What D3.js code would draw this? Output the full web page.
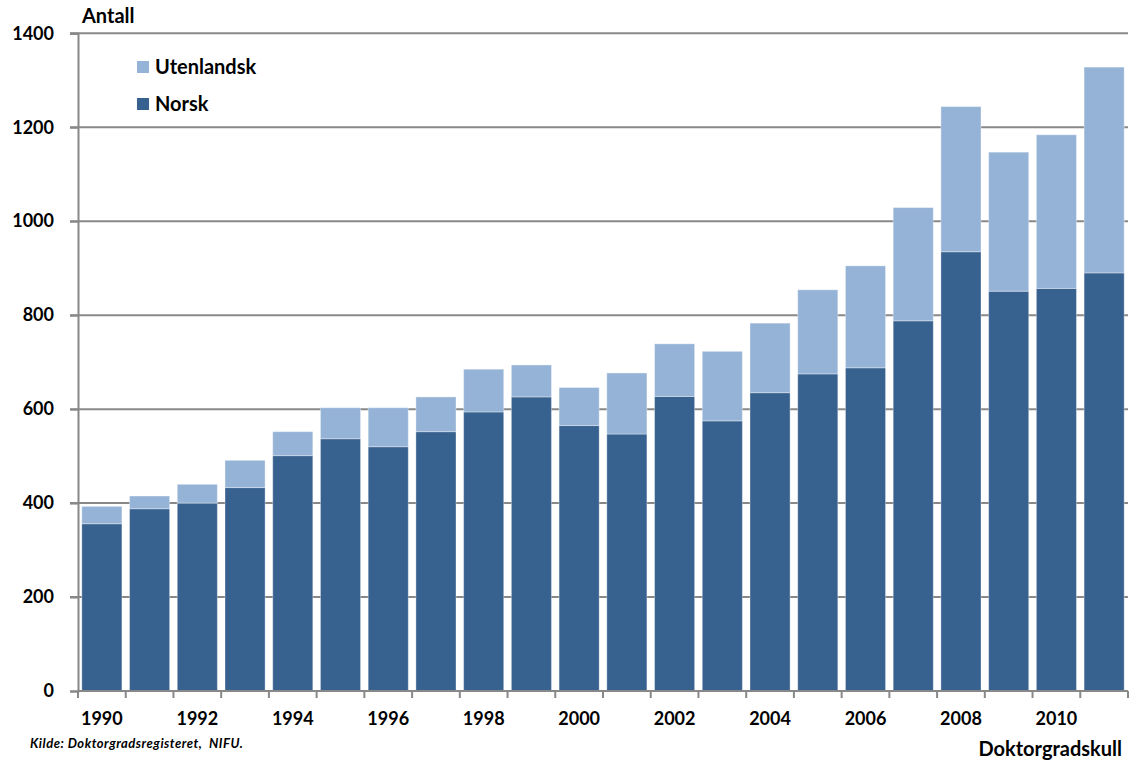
<!DOCTYPE html>
<html><head><meta charset="utf-8">
<script src="https://cdn.jsdelivr.net/npm/d3@7/dist/d3.min.js"></script>
<style>body{margin:0;background:#fff}svg{display:block}text{font-family:Lato,"Open Sans",sans-serif;font-weight:bold;fill:#000}</style>
</head><body><svg id="c" width="1129" height="760"></svg>
<script>
const years = [1990,1991,1992,1993,1994,1995,1996,1997,1998,1999,2000,2001,2002,2003,2004,2005,2006,2007,2008,2009,2010,2011];
const norsk = [356,388,400,433,501,537,520,552,594,626,565,547,627,575,635,675,688,788,935,851,857,890];
const utenlandsk = [37,27,40,58,51,66,83,74,91,68,81,130,112,148,148,179,217,241,309,296,327,438];
const yTicks = [0,200,400,600,800,1000,1200,1400];
const seriesNames = ["Norsk","Utenlandsk"];
const colors = {Norsk:"#37618f", Utenlandsk:"#95b3d7"};

const svg = d3.select("#c");
const L=78, R=1128, T=33.3, B=691;
const x = d3.scaleBand().domain(years).range([L,R]).paddingInner(0.16).paddingOuter(0.08);
const y = d3.scaleLinear().domain([0,1400]).range([B,T]);

// gridlines
svg.append("g").selectAll("line").data(yTicks.filter(d=>d>0)).join("line")
  .attr("x1",L-8).attr("x2",R).attr("y1",d=>y(d)).attr("y2",d=>y(d))
  .attr("stroke","#888").attr("stroke-width",2);

const table = years.map((yr,i)=>({year:yr, Norsk:norsk[i], Utenlandsk:utenlandsk[i]}));
const stack = d3.stack().keys(seriesNames)(table);
svg.append("g").selectAll("g").data(stack).join("g")
  .attr("fill",d=>colors[d.key])
  .selectAll("rect").data(d=>d).join("rect")
  .attr("x",d=>x(d.data.year)).attr("width",x.bandwidth())
  .attr("y",d=>y(d[1])).attr("height",d=>y(d[0])-y(d[1]))
  .attr("stroke","rgba(255,255,255,0.35)").attr("stroke-width",1);

// y axis
const ya = svg.append("g").attr("transform",`translate(${L},0)`)
  .call(d3.axisLeft(y).tickValues(yTicks).tickSize(8).tickPadding(16).tickFormat(d3.format("d")));
ya.select(".domain").attr("stroke","#888").attr("stroke-width",2);
ya.selectAll(".tick line").attr("stroke","#888").attr("stroke-width",2);
ya.selectAll(".tick text").attr("font-size",18).attr("font-family","Lato, sans-serif").attr("font-weight","bold").attr("fill","#000");

// x axis
const xa = svg.append("g").attr("transform",`translate(0,${B})`)
  .call(d3.axisBottom(x).tickSize(0).tickPadding(21).tickFormat(d=>d%2===0?d:""));
xa.select(".domain").attr("stroke","#888").attr("stroke-width",2).attr("d",`M${L},0H${R}`);
xa.selectAll(".tick text").attr("font-size",18).attr("font-family","Lato, sans-serif").attr("font-weight","bold").attr("fill","#000");
// category separator ticks
const seps = years.map((d,i)=>x(d)-x.step()*x.paddingInner()/2).concat([R]);
svg.append("g").selectAll("line").data(seps).join("line")
  .attr("x1",d=>d).attr("x2",d=>d).attr("y1",B).attr("y2",B+7)
  .attr("stroke","#888").attr("stroke-width",2);

// titles
svg.append("text").attr("x",82).attr("y",23).attr("font-size",20).text("Antall");
svg.append("text").attr("x",1122).attr("y",756).attr("text-anchor","end").attr("font-size",20).text("Doktorgradskull");
svg.append("text").attr("x",30).attr("y",748).attr("font-size",13).attr("font-style","italic")
  .attr("letter-spacing",0.5).style("white-space","pre").text("Kilde: Doktorgradsregisteret,  NIFU.");

// legend
const leg = [{k:"Utenlandsk",y:67},{k:"Norsk",y:104}];
const lg = svg.append("g").selectAll("g").data(leg).join("g");
lg.append("rect").attr("x",137).attr("y",d=>d.y-6).attr("width",12).attr("height",12).attr("fill",d=>colors[d.k]);
lg.append("text").attr("x",155).attr("y",d=>d.y+7).attr("font-size",20).text(d=>d.k);
</script></body></html>
